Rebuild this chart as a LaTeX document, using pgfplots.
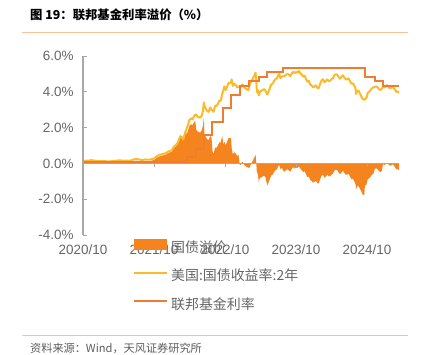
\documentclass[border=0pt]{standalone}
\usepackage{fontspec}
\setmainfont{Liberation Sans}
\newfontfamily\cjk{Noto Sans CJK SC}
\usepackage{pgfplots}
\usepackage{pgfplotstable}
\pgfplotsset{compat=1.18}
\definecolor{areaC}{HTML}{F5841F}
\definecolor{yC}{HTML}{FBBA2A}
\definecolor{ffC}{HTML}{EE7D31}
\definecolor{axC}{HTML}{A8A8A8}
\definecolor{txC}{HTML}{666666}
\definecolor{lnC}{HTML}{F8C497}

% date, 2Y yield, spread (2Y - fed funds)
\pgfplotstableread{
x y sp
2020.750 0.13 0.04
2020.790 0.15 0.06
2020.833 0.16 0.07
2020.870 0.18 0.09
2020.917 0.15 0.06
2020.955 0.12 0.03
2021.000 0.12 0.03
2021.040 0.14 0.05
2021.085 0.11 0.03
2021.125 0.11 0.03
2021.165 0.13 0.05
2021.205 0.14 0.07
2021.250 0.17 0.10
2021.290 0.16 0.09
2021.330 0.16 0.09
2021.370 0.15 0.08
2021.415 0.15 0.08
2021.455 0.21 0.13
2021.500 0.25 0.15
2021.540 0.22 0.12
2021.585 0.18 0.08
2021.625 0.22 0.12
2021.665 0.21 0.11
2021.705 0.22 0.14
2021.750 0.27 0.19
2021.790 0.40 0.32
2021.833 0.48 0.40
2021.870 0.52 0.44
2021.917 0.57 0.49
2021.955 0.67 0.59
2022.000 0.73 0.65
2022.020 0.87 0.79
2022.040 0.97 0.89
2022.060 1.03 0.95
2022.085 1.16 1.08
2022.100 1.31 1.23
2022.120 1.52 1.44
2022.140 1.47 1.39
2022.165 1.35 1.27
2022.180 1.62 1.54
2022.200 1.85 1.77
2022.210 1.95 1.62
2022.230 2.17 1.84
2022.250 2.44 2.11
2022.270 2.52 2.19
2022.290 2.46 2.13
2022.310 2.60 2.27
2022.330 2.72 2.39
2022.345 2.72 1.89
2022.360 2.62 1.79
2022.380 2.58 1.75
2022.400 2.55 1.72
2022.420 2.66 1.83
2022.440 2.94 2.11
2022.452 3.40 2.57
2022.460 3.20 1.62
2022.480 3.05 1.47
2022.500 2.92 1.34
2022.520 2.88 1.30
2022.540 3.13 1.55
2022.560 3.00 1.42
2022.575 2.97 0.64
2022.590 2.88 0.55
2022.610 3.22 0.89
2022.630 3.20 0.87
2022.650 3.33 1.00
2022.670 3.51 1.18
2022.690 3.50 1.17
2022.710 3.87 1.54
2022.728 4.10 1.02
2022.740 4.30 1.22
2022.760 4.10 1.02
2022.780 4.30 1.22
2022.800 4.50 1.42
2022.820 4.48 1.40
2022.835 4.54 1.46
2022.843 4.70 0.87
2022.860 4.33 0.50
2022.880 4.45 0.62
2022.900 4.38 0.55
2022.920 4.25 0.42
2022.940 4.30 0.47
2022.958 4.24 -0.09
2022.975 4.26 -0.07
2022.990 4.41 0.08
2023.000 4.40 0.07
2023.020 4.25 -0.08
2023.040 4.18 -0.15
2023.060 4.12 -0.21
2023.080 4.10 -0.23
2023.090 4.30 -0.28
2023.110 4.50 -0.08
2023.125 4.62 0.04
2023.140 4.72 0.14
2023.160 4.89 0.31
2023.180 5.07 0.49
2023.190 4.60 0.02
2023.200 3.98 -0.60
2023.210 4.10 -0.48
2023.225 3.80 -1.03
2023.240 4.00 -0.83
2023.260 4.05 -0.78
2023.280 4.10 -0.73
2023.300 4.15 -0.68
2023.320 4.05 -0.78
2023.345 3.85 -1.23
2023.360 3.98 -1.10
2023.380 4.20 -0.88
2023.400 4.40 -0.68
2023.420 4.45 -0.63
2023.440 4.60 -0.48
2023.460 4.70 -0.38
2023.480 4.75 -0.33
2023.500 4.94 -0.14
2023.515 4.99 -0.09
2023.530 4.75 -0.33
2023.550 4.85 -0.23
2023.575 4.88 -0.45
2023.590 4.88 -0.45
2023.610 4.96 -0.37
2023.630 5.00 -0.33
2023.650 4.95 -0.38
2023.670 4.87 -0.46
2023.690 5.03 -0.30
2023.710 5.12 -0.21
2023.730 5.05 -0.28
2023.750 5.10 -0.23
2023.770 5.07 -0.26
2023.790 5.16 -0.17
2023.810 5.05 -0.28
2023.830 4.95 -0.38
2023.850 4.85 -0.48
2023.870 4.90 -0.43
2023.890 4.73 -0.60
2023.910 4.56 -0.77
2023.930 4.60 -0.73
2023.950 4.40 -0.93
2023.970 4.35 -0.98
2023.990 4.25 -1.08
2024.010 4.30 -1.03
2024.030 4.36 -0.97
2024.050 4.22 -1.11
2024.070 4.21 -1.12
2024.090 4.45 -0.88
2024.110 4.64 -0.69
2024.130 4.70 -0.63
2024.150 4.53 -0.80
2024.170 4.60 -0.73
2024.190 4.69 -0.64
2024.210 4.60 -0.73
2024.230 4.62 -0.71
2024.250 4.71 -0.62
2024.270 4.75 -0.58
2024.290 4.93 -0.40
2024.310 4.98 -0.35
2024.330 4.95 -0.38
2024.350 4.82 -0.51
2024.370 4.73 -0.60
2024.390 4.83 -0.50
2024.410 4.92 -0.41
2024.430 4.80 -0.53
2024.450 4.70 -0.63
2024.470 4.70 -0.63
2024.490 4.75 -0.58
2024.510 4.60 -0.73
2024.530 4.45 -0.88
2024.550 4.48 -0.85
2024.570 4.35 -0.98
2024.590 4.15 -1.18
2024.595 3.88 -1.45
2024.610 4.05 -1.28
2024.630 4.07 -1.26
2024.650 3.91 -1.42
2024.670 3.75 -1.58
2024.690 3.58 -1.75
2024.710 3.56 -1.77
2024.720 3.59 -1.24
2024.740 3.64 -1.19
2024.760 3.95 -0.88
2024.780 4.00 -0.83
2024.800 4.10 -0.73
2024.820 4.20 -0.63
2024.840 4.25 -0.58
2024.860 4.28 -0.30
2024.880 4.30 -0.28
2024.900 4.25 -0.33
2024.920 4.14 -0.44
2024.940 4.10 -0.48
2024.960 4.18 -0.40
2024.975 4.30 -0.03
2024.990 4.24 -0.09
2025.010 4.28 -0.05
2025.030 4.37 0.04
2025.050 4.28 -0.05
2025.070 4.20 -0.13
2025.090 4.22 -0.11
2025.110 4.28 -0.05
2025.130 4.20 -0.13
2025.150 4.07 -0.26
2025.170 3.99 -0.34
2025.190 4.00 -0.33
2025.200 3.95 -0.38
}\yieldtab

% fed funds (step changes)
\pgfplotstableread{
x ff
2020.750 0.09
2021.200 0.07
2021.455 0.08
2022.208 0.33
2022.340 0.83
2022.458 1.58
2022.573 2.33
2022.725 3.08
2022.840 3.83
2022.955 4.33
2023.088 4.58
2023.222 4.83
2023.340 5.08
2023.570 5.33
2024.718 4.83
2024.855 4.58
2024.970 4.33
2025.200 4.33
}\fftab

\begin{document}
\begin{tikzpicture}[x=1bp,y=1bp]
\path[use as bounding box] (0,0) rectangle (427,355);
\node[anchor=west, inner sep=0pt, font=\cjk\bfseries\fontsize{12.4}{14}\selectfont] at (30,340) {图 19：联邦基金利率溢价（\%）};
\draw[lnC, line width=1bp] (22,322.5) -- (408,322.5);
\draw[lnC, line width=0.8bp] (22,20) -- (408,20);
\node[anchor=west, inner sep=0pt, text=txC!90!black, font=\cjk\fontsize{11.2}{12}\selectfont] at (30,7) {资料来源：Wind，天风证券研究所};
\begin{axis}[
  at={(83bp,120bp)}, anchor=south west, scale only axis,
  width=316bp, height=179bp,
  xmin=2020.75, xmax=2025.2, ymin=-4, ymax=6,
  axis x line=middle, axis y line=left,
  axis line style={-, draw=axC, line width=1.2bp},
  hide obscured x ticks=false, hide obscured y ticks=false,
  xtick={2020.75,2021.75,2022.75,2023.75,2024.75},
  xticklabels={2020/10,2021/10,2022/10,2023/10,2024/10},
  ytick={-4,-2,0,2,4,6},
  yticklabels={-4.0\%,-2.0\%,0.0\%,2.0\%,4.0\%,6.0\%},
  tick align=inside,
  major tick length=4bp,
  tick style={draw=axC, line width=0.8bp},
  xtick style={yshift=-4bp},
  ticklabel style={font=\fontsize{13.5}{15}\selectfont, text=txC},
  xticklabel style={yshift=-78bp},
  yticklabel style={xshift=-6bp},
  axis on top,
  legend cell align=left,
  legend style={at={(0.158,-0.02)}, anchor=north west, draw=none, fill=none,
    font=\cjk\fontsize{14}{16}\selectfont, text=txC, inner sep=0pt,
    row sep=15bp, column sep=3bp,
    nodes={inner sep=0pt, text height=10.5bp, text depth=3bp}},
]
\addplot[fill=areaC, draw=none,
  legend image code/.code={\fill[areaC] (0bp,-1.5bp) rectangle (33bp,9.5bp);}]
  table[x=x, y=sp] {\yieldtab} \closedcycle;
\addlegendentry{国债溢价}
\addplot[yC, line width=2bp, line join=round,
  legend image code/.code={\draw[yC, line width=2bp] (0bp,4bp) -- (33bp,4bp);}]
  table[x=x, y=y] {\yieldtab};
\addlegendentry{美国:国债收益率:2年}
\addplot[ffC, line width=2bp, const plot,
  legend image code/.code={\draw[ffC, line width=2bp] (0bp,4bp) -- (33bp,4bp);}]
  table[x=x, y=ff] {\fftab};
\addlegendentry{联邦基金利率}
\end{axis}
\end{tikzpicture}
\end{document}
